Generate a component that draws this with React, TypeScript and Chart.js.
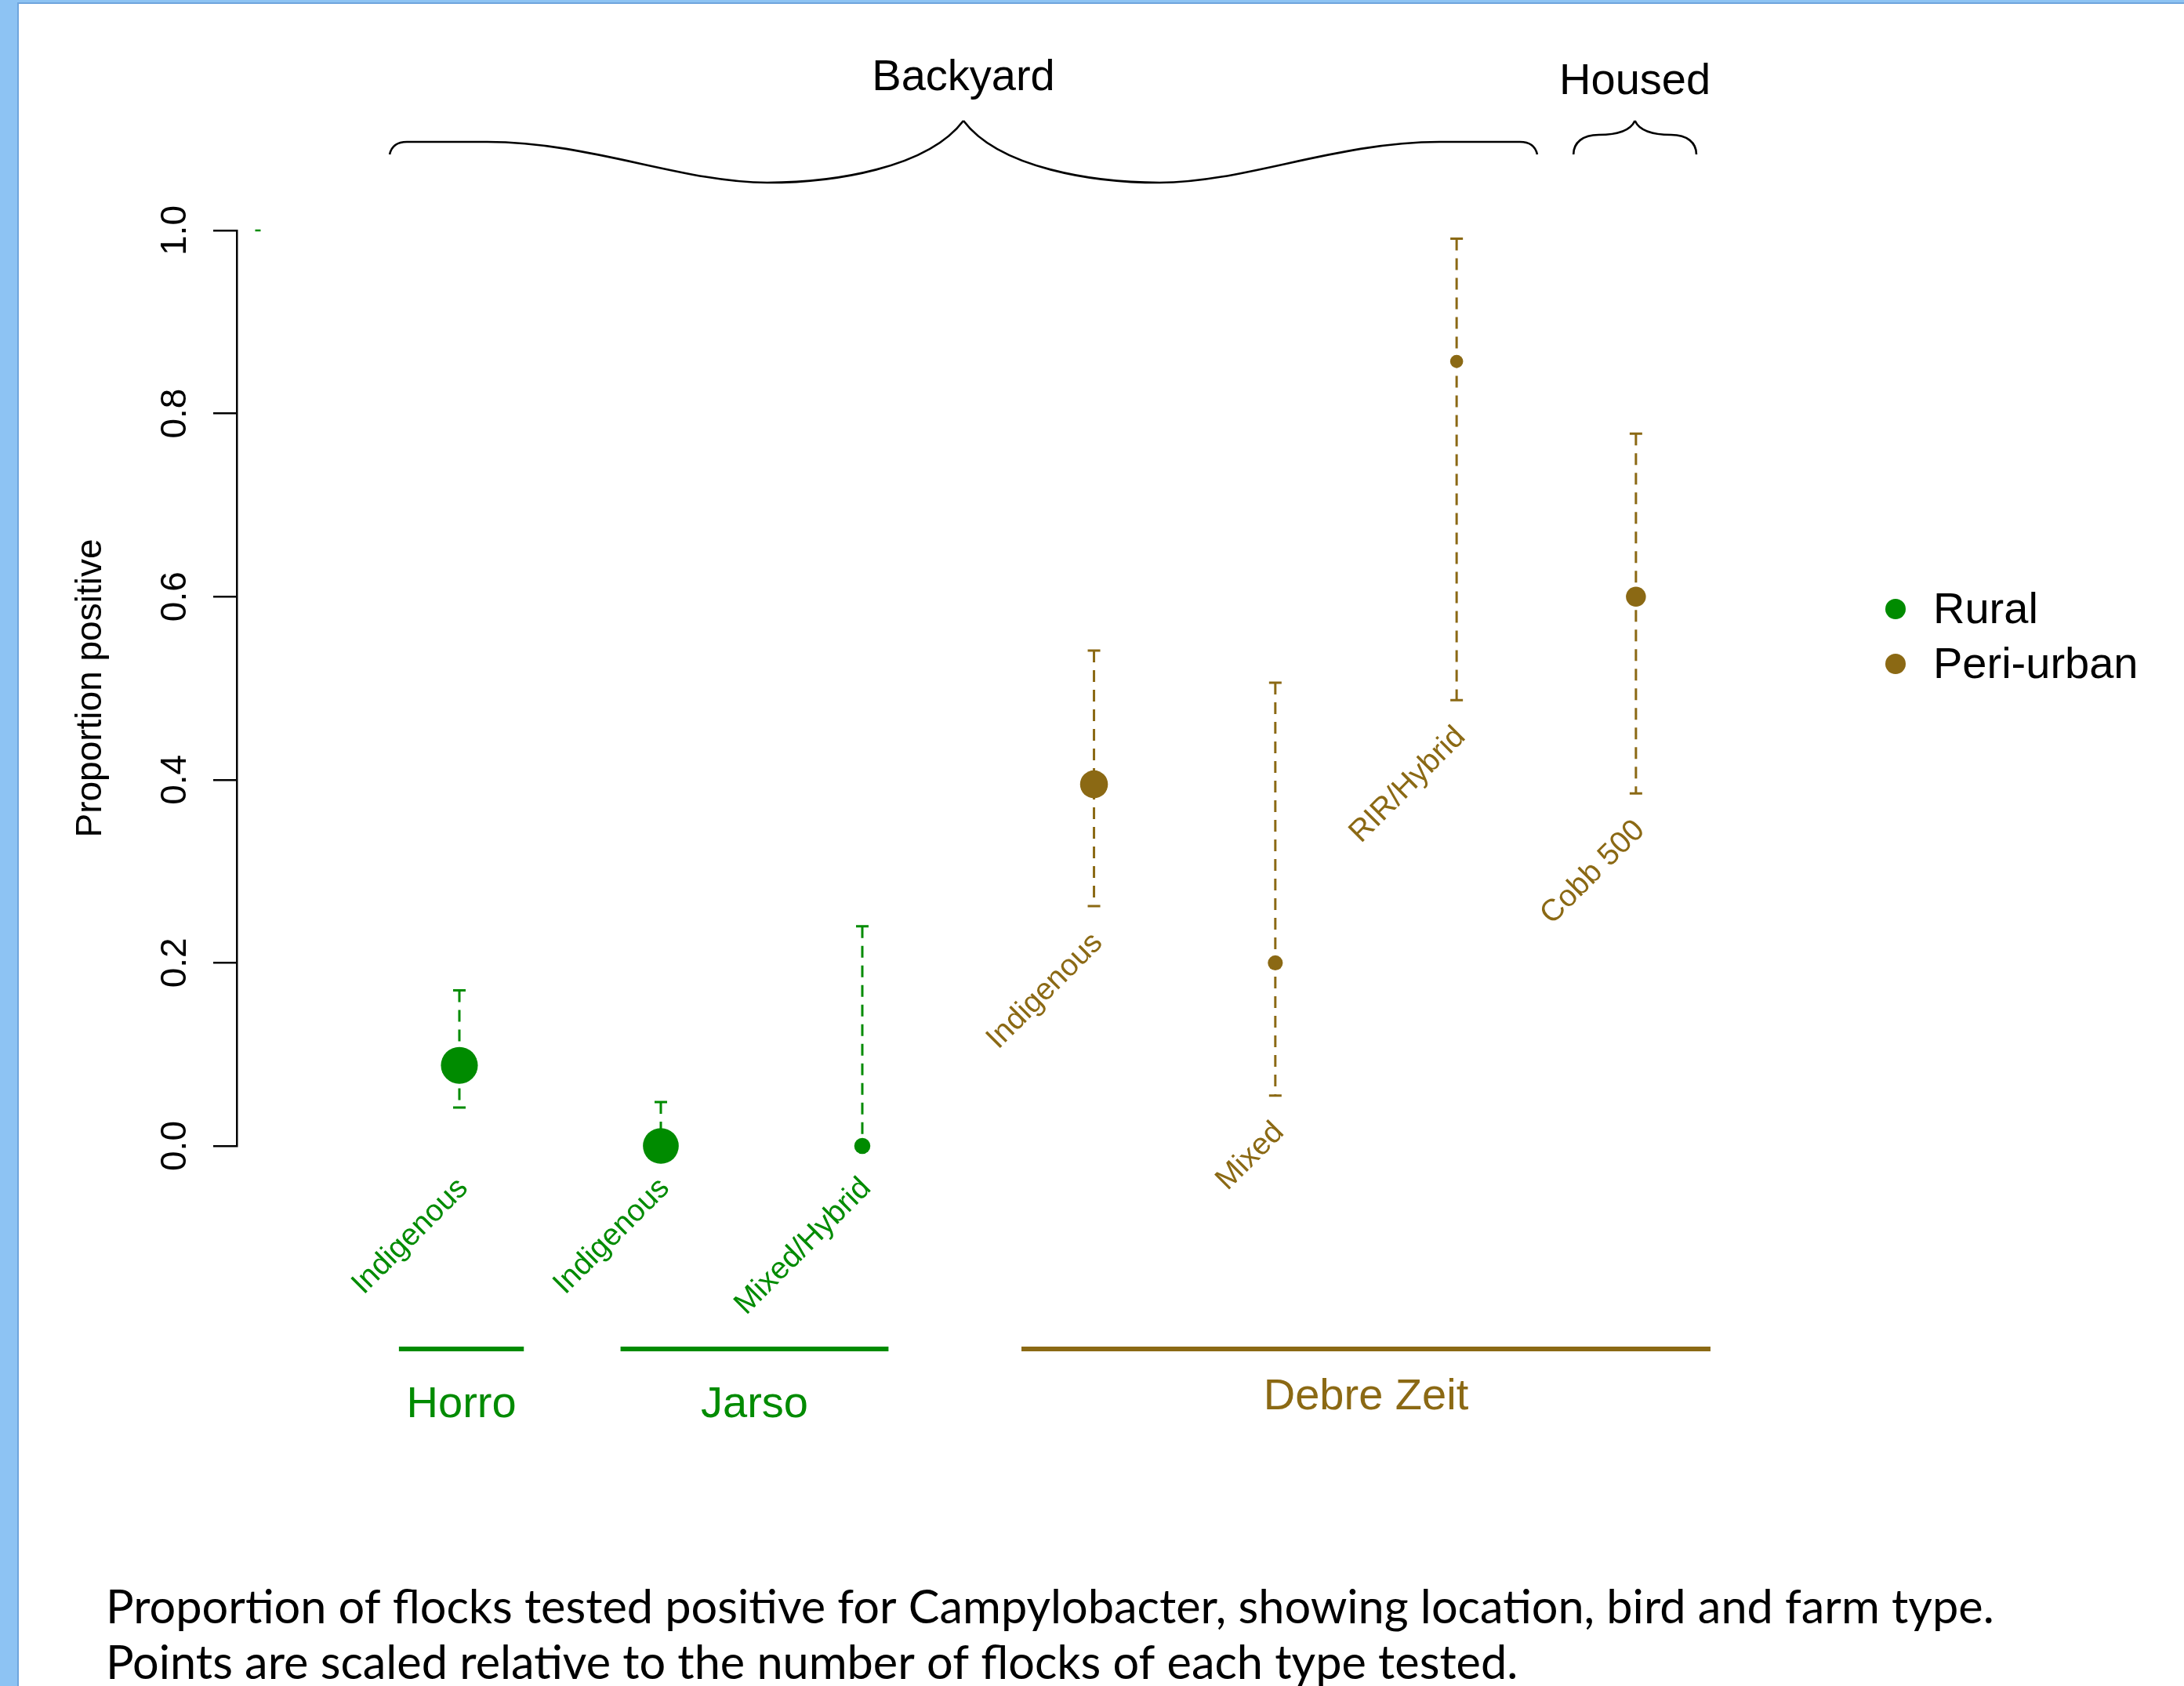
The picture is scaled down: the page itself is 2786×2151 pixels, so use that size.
import React, { useEffect, useRef } from 'react';
import { Chart, registerables } from 'chart.js';

Chart.register(...registerables);

// ---------- data ----------
const breeds = ['Indigenous', 'Indigenous', 'Mixed/Hybrid', 'Indigenous', 'Mixed', 'RIR/Hybrid', 'Cobb 500'];
const settings = ['Rural', 'Rural', 'Rural', 'Peri-urban', 'Peri-urban', 'Peri-urban', 'Peri-urban'];
const xPositions = [1, 2, 3, 4.15, 5.05, 5.95, 6.84];
const proportionPositive = [0.088, 0, 0, 0.395, 0.2, 0.857, 0.6];
const ciLower = [0.042, 0, 0, 0.262, 0.055, 0.487, 0.385];
const ciUpper = [0.17, 0.048, 0.24, 0.541, 0.506, 0.991, 0.778];
const flocksTested = [80, 75, 12, 43, 10, 7, 20];

const locations = ['Horro', 'Jarso', 'Debre Zeit'];
const locationSetting = ['Rural', 'Rural', 'Peri-urban'];
const locationFrom = [0.7, 1.8, 3.79];
const locationTo = [1.32, 3.13, 7.21];

const farmTypes = ['Backyard', 'Housed'];
const farmFrom = [0.654, 6.53];
const farmTo = [6.35, 7.14];

const yTicks = [0, 0.2, 0.4, 0.6, 0.8, 1.0];
const legendLabels = ['Rural', 'Peri-urban'];
const strayMark = [{ x: 0, y: 1 }];

const captionLines = [
  'Proportion of flocks tested positive for Campylobacter, showing location, bird and farm type.',
  'Points are scaled relative to the number of flocks of each type tested.',
];

// ---------- styles ----------
const COLORS: Record<string, string> = { Rural: '#008B00', 'Peri-urban': '#8B6914' };
const FONT = '"Liberation Sans", Arial, sans-serif';
const W = 2786;
const H = 2151;

const radiusFor = (n: number) => 1.9 + 2.42 * Math.sqrt(n);

function seriesFor(setting: string) {
  const pts: { x: number; y: number }[] = [];
  const radii: number[] = [];
  proportionPositive.forEach((p, i) => {
    if (settings[i] === setting) {
      pts.push({ x: xPositions[i], y: p });
      radii.push(radiusFor(flocksTested[i]));
    }
  });
  return { pts, radii };
}

function drawBrace(ctx: CanvasRenderingContext2D, x0: number, x1: number, top: number) {
  // top = pixel of y = 1.0
  const xm = (x0 + x1) / 2;
  const hw = xm - x0;
  const yEnd = top - 97;
  const yPeak = top - 140;
  ctx.beginPath();
  if (hw > 200) {
    const yFlat = top - 113;
    const yTrough = top - 61;
    const half = (s: number) => {
      const fx = (f: number) => (s > 0 ? x0 + f * hw : x1 - f * hw);
      ctx.moveTo(fx(0), yEnd);
      ctx.bezierCurveTo(fx(0.003), yEnd - 10, fx(0.012), yFlat, fx(0.03), yFlat);
      ctx.lineTo(fx(0.17), yFlat);
      ctx.bezierCurveTo(fx(0.35), yFlat, fx(0.51), yTrough, fx(0.658), yTrough);
      ctx.bezierCurveTo(fx(0.772), yTrough, fx(0.937), yTrough - 18, xm, yPeak);
    };
    half(1);
    half(-1);
  } else {
    const yFlat = top - 122;
    const half = (s: number) => {
      const fx = (f: number) => (s > 0 ? x0 + f * hw : x1 - f * hw);
      ctx.moveTo(fx(0), yEnd);
      ctx.bezierCurveTo(fx(0), yEnd - 15, fx(0.15), yFlat, fx(0.41), yFlat);
      ctx.bezierCurveTo(fx(0.67), yFlat, fx(0.92), yFlat - 4, xm, yPeak);
    };
    half(1);
    half(-1);
  }
  ctx.stroke();
}

const decorPlugin = {
  id: 'decor',
  beforeDraw(chart: any) {
    const ctx = chart.ctx as CanvasRenderingContext2D;
    ctx.save();
    ctx.fillStyle = '#ffffff';
    ctx.fillRect(0, 0, W, H);
    ctx.fillStyle = '#8DC3F3';
    ctx.fillRect(0, 0, 23, H);
    ctx.fillRect(0, 0, W, 4);
    ctx.fillStyle = '#6FA5DD';
    ctx.fillRect(22, 3, 2, H);
    ctx.fillRect(22, 3, W, 2);
    ctx.restore();
  },
  beforeDatasetsDraw(chart: any) {
    const ctx = chart.ctx as CanvasRenderingContext2D;
    const xs = chart.scales.x;
    const ys = chart.scales.y;
    ctx.save();
    xPositions.forEach((xv, i) => {
      const px = xs.getPixelForValue(xv);
      const pl = ys.getPixelForValue(ciLower[i]);
      const pu = ys.getPixelForValue(ciUpper[i]);
      ctx.strokeStyle = COLORS[settings[i]];
      ctx.lineWidth = 3;
      ctx.setLineDash([15, 10]);
      ctx.beginPath();
      ctx.moveTo(px, pu);
      ctx.lineTo(px, pl);
      ctx.stroke();
      ctx.setLineDash([]);
      ctx.beginPath();
      ctx.moveTo(px - 8, pu);
      ctx.lineTo(px + 8, pu);
      ctx.moveTo(px - 8, pl);
      ctx.lineTo(px + 8, pl);
      ctx.stroke();
    });
    ctx.restore();
  },
  afterDraw(chart: any) {
    const ctx = chart.ctx as CanvasRenderingContext2D;
    const xs = chart.scales.x;
    const ys = chart.scales.y;
    const top = ys.getPixelForValue(1);
    ctx.save();

    // y tick labels (rotated, R style)
    ctx.fillStyle = '#000';
    ctx.font = `46px ${FONT}`;
    ctx.textAlign = 'center';
    ctx.textBaseline = 'middle';
    ys.ticks.forEach((t: any) => {
      const py = ys.getPixelForValue(t.value);
      ctx.save();
      ctx.translate(224, py);
      ctx.rotate(-Math.PI / 2);
      ctx.fillText(Number(t.value).toFixed(1), 0, 0);
      ctx.restore();
    });

    // rotated breed labels
    ctx.font = `39px ${FONT}`;
    ctx.textAlign = 'right';
    ctx.textBaseline = 'middle';
    breeds.forEach((b, i) => {
      const base = settings[i] === 'Rural' ? -0.041 : ciLower[i] - 0.035;
      const px = xs.getPixelForValue(xPositions[i]) + 5;
      const py = ys.getPixelForValue(base);
      ctx.save();
      ctx.fillStyle = COLORS[settings[i]];
      ctx.translate(px, py);
      ctx.rotate(-Math.PI / 4);
      ctx.fillText(b, 0, 0);
      ctx.restore();
    });

    // location lines and labels
    locations.forEach((loc, i) => {
      const c = COLORS[locationSetting[i]];
      const a = xs.getPixelForValue(locationFrom[i]);
      const b = xs.getPixelForValue(locationTo[i]);
      const ly = ys.getPixelForValue(-0.2217);
      ctx.strokeStyle = c;
      ctx.lineWidth = 6;
      ctx.beginPath();
      ctx.moveTo(a, ly);
      ctx.lineTo(b, ly);
      ctx.stroke();
      ctx.fillStyle = c;
      ctx.font = `56px ${FONT}`;
      ctx.textAlign = 'center';
      ctx.textBaseline = 'middle';
      const labelY = locationSetting[i] === 'Rural' ? -0.283 : -0.2748;
      ctx.fillText(loc, (a + b) / 2, ys.getPixelForValue(labelY));
    });

    // farm type braces
    ctx.strokeStyle = '#000';
    ctx.lineWidth = 2.6;
    farmTypes.forEach((f, i) => {
      const a = xs.getPixelForValue(farmFrom[i]);
      const b = xs.getPixelForValue(farmTo[i]);
      drawBrace(ctx, a, b, top);
      ctx.fillStyle = '#000';
      ctx.font = `56px ${FONT}`;
      ctx.textAlign = 'center';
      ctx.textBaseline = 'middle';
      ctx.fillText(f, (a + b) / 2, top - (i === 0 ? 194 : 189));
    });

    // legend
    legendLabels.forEach((l, i) => {
      const cy = 777 + i * 70;
      ctx.fillStyle = COLORS[l];
      ctx.beginPath();
      ctx.arc(2418, cy, 13, 0, Math.PI * 2);
      ctx.fill();
      ctx.fillStyle = '#000';
      ctx.font = `56px ${FONT}`;
      ctx.textAlign = 'left';
      ctx.textBaseline = 'middle';
      ctx.fillText(l, 2466, cy + 3);
    });

    // caption
    ctx.fillStyle = '#000';
    ctx.textAlign = 'left';
    ctx.textBaseline = 'alphabetic';
    ctx.font = `100px Lato, "Open Sans", sans-serif`;
    const w100 = ctx.measureText(captionLines[0]).width;
    const size = (100 * 2409) / w100;
    ctx.font = `${size}px Lato, "Open Sans", sans-serif`;
    ctx.fillText(captionLines[0], 135, 2071);
    ctx.fillText(captionLines[1], 135, 2142);

    ctx.restore();
  },
};

export default function App() {
  const ref = useRef<HTMLCanvasElement | null>(null);

  useEffect(() => {
    document.body.style.margin = '0';
    document.body.style.overflow = 'hidden';
    const canvas = ref.current;
    if (!canvas) return;
    const rural = seriesFor('Rural');
    const peri = seriesFor('Peri-urban');
    const xMin = -0.105;
    const xMax = 7.2;
    const chart = new Chart(canvas, {
      type: 'scatter',
      data: {
        datasets: [
          {
            label: 'Rural',
            data: rural.pts,
            pointRadius: rural.radii,
            pointHoverRadius: rural.radii,
            backgroundColor: COLORS.Rural,
            borderColor: COLORS.Rural,
            borderWidth: 0,
            pointStyle: 'circle',
            clip: false as any,
          },
          {
            label: 'Peri-urban',
            data: peri.pts,
            pointRadius: peri.radii,
            pointHoverRadius: peri.radii,
            backgroundColor: COLORS['Peri-urban'],
            borderColor: COLORS['Peri-urban'],
            borderWidth: 0,
            pointStyle: 'circle',
            clip: false as any,
          },
          {
            label: 'mark',
            data: strayMark,
            pointStyle: 'line',
            pointRadius: 3.5,
            borderColor: COLORS.Rural,
            backgroundColor: COLORS.Rural,
            borderWidth: 2.5,
            clip: false as any,
          },
        ],
      },
      options: {
        responsive: false,
        animation: false,
        devicePixelRatio: 1,
        events: [],
        layout: {
          padding: { top: 294, bottom: H - 1462, left: 0, right: W - (302 + (xMax - xMin) * 257) },
        },
        plugins: {
          legend: { display: false },
          tooltip: { enabled: false },
        },
        scales: {
          x: { type: 'linear', min: xMin, max: xMax, display: false },
          y: {
            type: 'linear',
            min: 0,
            max: 1,
            afterBuildTicks: (scale: any) => {
              scale.ticks = yTicks.map((v) => ({ value: v }));
            },
            afterFit: (scale: any) => {
              scale.width = 302;
            },
            ticks: { display: false },
            grid: {
              display: true,
              drawOnChartArea: false,
              drawTicks: true,
              tickLength: 30,
              color: '#000',
              lineWidth: 2.5,
            },
            border: { display: true, color: '#000', width: 2.5 },
            title: {
              display: true,
              text: 'Proportion positive',
              color: '#000',
              font: { family: FONT, size: 46 },
              padding: { top: 89, bottom: 0 },
            },
          },
        },
      },
      plugins: [decorPlugin],
    });
    return () => chart.destroy();
  }, []);

  return <canvas ref={ref} width={W} height={H} style={{ display: 'block', width: W, height: H }} />;
}
